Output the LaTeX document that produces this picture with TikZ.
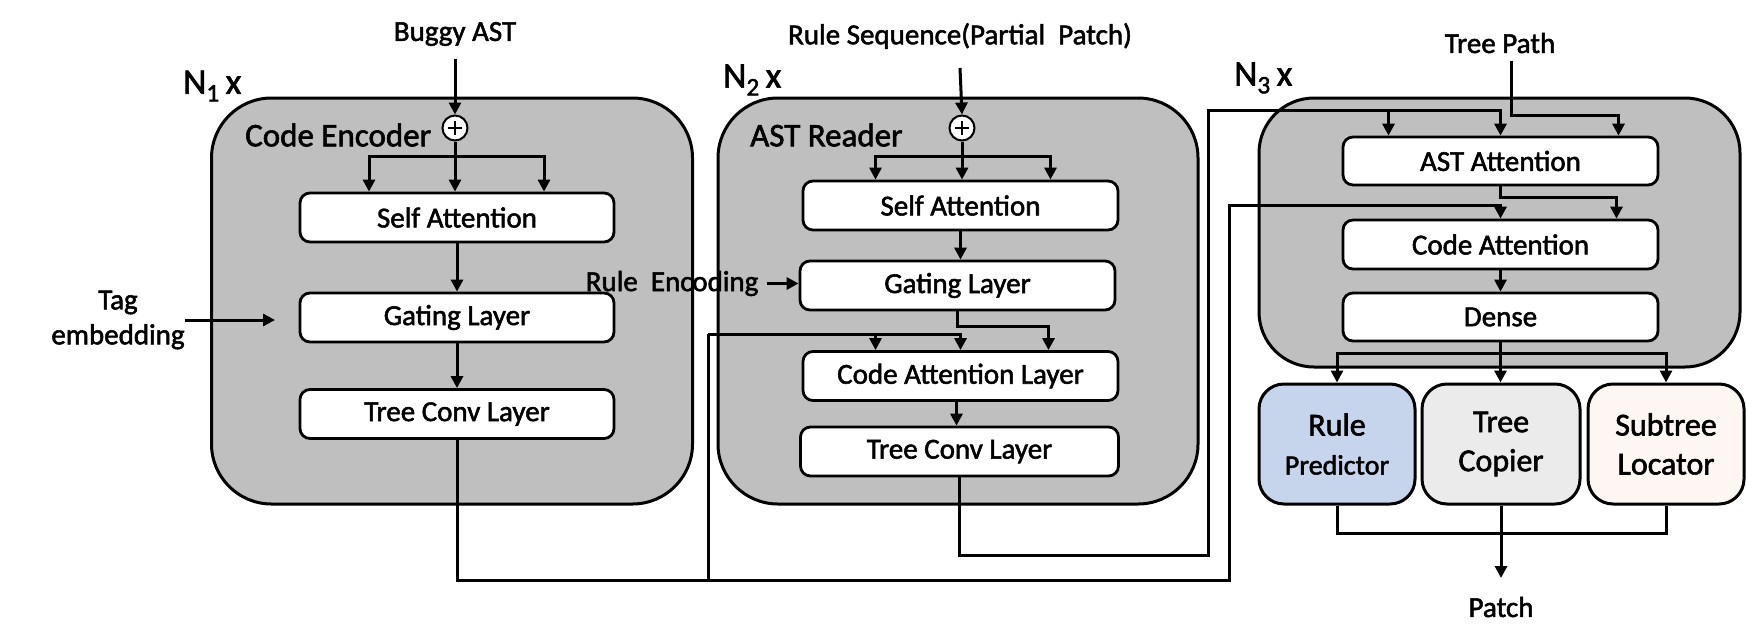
\documentclass[tikz,border=0pt]{standalone}
\usepackage{fontspec}
\setmainfont{Carlito}[RawFeature={embolden=1.8}]
\usetikzlibrary{arrows.meta,calc}
\definecolor{bgray}{HTML}{BFBFBF}
\definecolor{rpblue}{HTML}{C6D4EC}
\definecolor{tcgray}{HTML}{EBEBEB}
\definecolor{slpink}{HTML}{FDF6F2}
\begin{document}
\begin{tikzpicture}[x=1pt,y=-1pt,
  big/.style={draw, line width=3pt, fill=bgray, rounded corners=60pt, inner sep=0pt},
  layer/.style={draw, line width=2.8pt, fill=white, rounded corners=10pt, minimum width=314pt, minimum height=49pt, inner sep=0pt, font=\fontsize{29}{35}\selectfont},
  txt/.style={inner sep=0pt, font=\fontsize{29}{35}\selectfont},
  ttl/.style={inner sep=0pt, anchor=west, font=\fontsize{33}{40}\selectfont},
  nx/.style={inner sep=0pt, anchor=west, font=\fontsize{36}{42}\selectfont},
  conn/.style={line width=3pt},
  arr/.style={line width=3pt, -{Triangle[length=12pt,width=12pt]}},
  outb/.style={draw, line width=3pt, rounded corners=25pt, minimum width=156pt, minimum height=120pt, inner sep=0pt, align=center, font=\fontsize{32}{39}\selectfont},
  plus/.style={circle, draw, line width=2pt, fill=white, minimum size=25pt, inner sep=0pt,
    path picture={\draw[line width=1.8pt] ($(path picture bounding box.center)+(-7,0)$) -- ($(path picture bounding box.center)+(7,0)$)
      ($(path picture bounding box.center)+(0,-7)$) -- ($(path picture bounding box.center)+(0,7)$);}}
]
\useasboundingbox (0,0) rectangle (1747,643);

% big boxes
\node[big, minimum width=481pt, minimum height=406pt] (enc) at (452,301) {};
\node[big, minimum width=480pt, minimum height=406pt] (rdr) at (958,301) {};
\node[big, rounded corners=55pt, minimum width=481pt, minimum height=269pt] (dec) at (1499.5,232.5) {};

% titles
\node[ttl] (encL) at (245,135) {Code Encoder};
\node[ttl] (rdrL) at (750,135) {AST Reader};
\node[nx] (n1) at (183,86) {N\textsubscript{1}\,x};
\node[nx] (n2) at (723,80) {N\textsubscript{2}\,x};
\node[nx] (n3) at (1234,78) {N\textsubscript{3}\,x};

% encoder layers
\node[layer] (sa1) at (457,217.5) {Self Attention};
\node[layer] (gl1) at (457,317.5) {Gating Layer};
\node[layer] (tc1) at (457,414) {Tree Conv Layer};

% reader layers
\node[layer, minimum width=315pt] (sa2) at (960.5,205.5) {Self Attention};
\node[layer, minimum width=315pt] (gl2) at (957.5,285.5) {Gating Layer};
\node[layer, minimum width=315pt] (cal) at (960.5,376) {Code Attention Layer};
\node[layer, minimum width=318pt] (tc2) at (959.5,451.5) {Tree Conv Layer};

% decoder layers
\node[layer, minimum width=315pt, minimum height=48pt] (ast) at (1500.5,161) {AST Attention};
\node[layer, minimum width=315pt, minimum height=49pt] (ca3) at (1500.5,244.5) {Code Attention};
\node[layer, minimum width=315pt, minimum height=48pt] (dn) at (1500.5,317) {Dense};

% output boxes
\node[outb, fill=rpblue] (rp) at (1337,444) {Rule\\{\fontsize{28}{39}\selectfont Predictor}};
\node[outb, fill=tcgray, minimum width=158pt] (tcp) at (1501,444) {Tree\\Copier};
\node[outb, fill=slpink] (sl) at (1666,444) {Subtree\\Locator};

% plus circles
\node[plus] (p1) at (455,128) {};
\node[plus] (p2) at (962,128) {};

% free texts
\node[txt] (bug) at (455,34) {Buggy AST};
\node[txt] (rs) at (960,36) {Rule Sequence(Partial\ \ Patch)};
\node[txt] (tp) at (1500,43) {Tree Path};
\node[txt, align=center] (tag) at (118,320) {Tag\\embedding};
\node[txt, anchor=east] (re) at ($(gl2.west)+(-40,-2)$) {Rule\ \ Encoding};
\node[txt] (patch) at (1501,607) {Patch};

% coordinates
\coordinate (tagT) at (275,320);
\coordinate (cA) at (1229,580);
\coordinate (cB) at (1229,205);
\coordinate (cC) at (708,580);
\coordinate (cD) at (708,334);
\coordinate (dA) at (1208,555);
\coordinate (dB) at (1208,110);
\coordinate (pt) at (1501,578);
\coordinate (calS) at ($(cal.south)+(-4,0)$);

% encoder connectors
\draw[arr] ($(bug.center)+(0,25)$) -- (p1.north);
\coordinate (j1) at ($(p1.south)+(0,15)$);
\draw[conn] (p1.south) -- (j1);
\draw[arr] (j1) -| ($(sa1.north)+(-88,0)$);
\draw[arr] (j1) -| ($(sa1.north)+(87,0)$);
\draw[arr] (j1) -- (j1 |- sa1.north);
\draw[arr] (sa1.south) -- (gl1.north);
\draw[arr] (gl1.south) -- (tc1.north);
\draw[arr] (tag.east) -- (tagT);

% reader connectors
\draw[arr] ($(rs.center)+(0,32)$) -- (p2.north);
\coordinate (j2) at ($(p2.south)+(0,15)$);
\draw[conn] (p2.south) -- (j2);
\draw[arr] (j2) -| ($(sa2.north)+(-85,0)$);
\draw[arr] (j2) -| ($(sa2.north)+(90,0)$);
\draw[arr] (j2) -- (j2 |- sa2.north);
\draw[arr] (sa2.south) -- (sa2.south |- gl2.north);
\draw[arr] ([xshift=8pt]re.east) -- (re.east -| gl2.west);
\draw[arr] (gl2.south) -- ++(0,15) -| ($(cal.north)+(88,0)$);
\draw[arr] (calS) -- (calS |- tc2.north);

% code encoder output
\draw[arr] (tc1.south) |- (cA) -- (cB) -| (ca3.north);
\draw[conn] (cC) -- (cD);
\draw[arr] (cD) -| ($(cal.north)+(-85,0)$);
\draw[arr] (cD) -| (cal.north);

% reader output
\draw[arr] (tc2.south) |- (dA) -- (dB) -| ($(ast.north)+(-112,0)$);
\draw[arr] (dB) -| (ast.north);

% decoder connectors
\draw[arr] ($(tp.center)+(11,18)$) |- ($(ast.north)+(118,-20)$) -- ($(ast.north)+(118,0)$);
\draw[arr] (ast.south) -- ++(0,11) -| ($(ca3.north)+(116,0)$);
\draw[arr] (ca3.south) -- (dn.north);
\coordinate (dj) at ($(dn.south)+(0,11)$);
\draw[conn] (dn.south) -- (dj);
\draw[arr] (dj) -| (rp.north);
\draw[arr] (dj) -| (sl.north);
\draw[arr] (dj) -- (dj |- tcp.north);
\draw[conn] (rp.south) |- ($(sl.south)+(0,28)$) -- (sl.south);
\draw[arr] (tcp.south) -- (pt);
\end{tikzpicture}
\end{document}
